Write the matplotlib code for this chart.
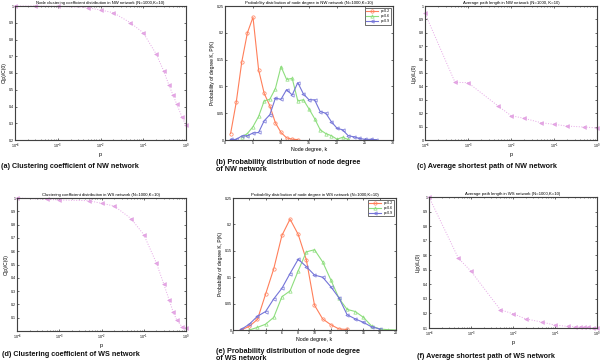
import matplotlib
matplotlib.use('Agg')
import matplotlib.pyplot as plt
import numpy as np
from matplotlib.ticker import LogLocator, NullFormatter

plt.rcParams['font.family'] = ['Liberation Sans', 'DejaVu Sans']

# clustering coefficient, NW network
p_nw_c = [1e-4, 3e-4, 1e-3, 5e-3, 1e-2, 2e-2, 5e-2, 0.1, 0.2, 0.3, 0.4, 0.5, 0.6, 0.8, 1.0]
c_nw = [1.0, 1.0, 0.998, 0.99, 0.976, 0.96, 0.90, 0.84, 0.714, 0.613, 0.527, 0.467, 0.417, 0.34, 0.288]

# average path length, NW network
p_nw_l = [1e-4, 5e-4, 1e-3, 5e-3, 1e-2, 2e-2, 5e-2, 0.1, 0.2, 0.5, 1.0]
l_nw = [0.945, 0.43, 0.428, 0.254, 0.182, 0.162, 0.129, 0.117, 0.104, 0.097, 0.09]

# clustering coefficient, WS network
p_ws_c = [1e-4, 5e-4, 1e-3, 5e-3, 1e-2, 2e-2, 5e-2, 0.1, 0.2, 0.3, 0.4, 0.5, 0.6, 0.8, 1.0]
c_ws = [1.0, 0.99, 0.985, 0.98, 0.96, 0.94, 0.845, 0.725, 0.51, 0.35, 0.233, 0.14, 0.085, 0.033, 0.025]

# average path length, WS network
p_ws_l = [1e-4, 5e-4, 1e-3, 5e-3, 1e-2, 2e-2, 5e-2, 0.1, 0.2, 0.3, 0.4, 0.5, 0.6, 0.8, 1.0]
l_ws = [1.0, 0.58, 0.49, 0.225, 0.198, 0.163, 0.14, 0.12, 0.111, 0.109, 0.107, 0.105, 0.105, 0.103, 0.102]

# degree distributions, NW network
k_nw_02 = list(range(1, 14))
pk_nw_02 = [0.012, 0.07, 0.146, 0.2, 0.229, 0.131, 0.087, 0.064, 0.032, 0.014, 0.004, 0.0015, 0.0008]
k_nw_06 = list(range(3, 23))
pk_nw_06 = [0.006, 0.012, 0.025, 0.044, 0.073, 0.076, 0.096, 0.137, 0.113, 0.115, 0.073, 0.075,
            0.058, 0.04, 0.019, 0.012, 0.008, 0.0015, 0.005, 0.001]
k_nw_09 = list(range(1, 28))
pk_nw_09 = [0.001, 0.001, 0.0075, 0.008, 0.013, 0.014, 0.036, 0.047, 0.078, 0.076, 0.094, 0.084,
            0.107, 0.086, 0.075, 0.075, 0.053, 0.05, 0.034, 0.022, 0.019, 0.008, 0.006, 0.003,
            0.0012, 0.0012, 0.0006]

# degree distributions, WS network
k_ws_02 = list(range(1, 15))
pk_ws_02 = [0.0, 0.007, 0.02, 0.068, 0.116, 0.179, 0.21, 0.181, 0.133, 0.047, 0.021, 0.01, 0.002, 0.001]
k_ws_06 = list(range(2, 21))
pk_ws_06 = [0.0, 0.005, 0.011, 0.024, 0.063, 0.074, 0.112, 0.148, 0.152, 0.129, 0.095, 0.06,
            0.039, 0.035, 0.024, 0.0076, 0.002, 0.0006, 0.0]
k_ws_09 = list(range(1, 19))
pk_ws_09 = [0.001, 0.011, 0.026, 0.035, 0.059, 0.079, 0.107, 0.134, 0.12, 0.104, 0.1, 0.082,
            0.061, 0.029, 0.021, 0.0145, 0.006, 0.002]

legend_labels = ['p=0.2', 'p=0.6', 'p=0.9']

W, H = 600, 363
fig = plt.figure(figsize=(W / 100, H / 100), dpi=100)


def px_axes(l, t, r, b):
    return fig.add_axes([l / W, 1 - b / H, (r - l) / W, (b - t) / H])


def style(ax):
    ax.tick_params(direction='in', top=True, right=True, labelsize=2.6, length=1.5,
                   width=0.5, pad=1, color='#333333')
    ax.tick_params(which='minor', direction='in', top=True, right=True, length=0.9, width=0.4,
                   color='#333333')
    # draw the box explicitly as a rectangle in axes coordinates
    ax.add_patch(plt.Rectangle((0, 0), 1, 1, transform=ax.transAxes, fill=False,
                               edgecolor='#444444', lw=0.7, zorder=6, clip_on=False))


def log_panel(ax, p, v, ylim, yticks, ylabel, title):
    ax.plot(p, v, linestyle=':', color='#e6a6e6', lw=0.7, marker='<', markersize=2.8,
            markerfacecolor='#e6a6e6', markeredgecolor='#d890d8', markeredgewidth=0.3,
            clip_on=False)
    ax.set_xscale('log')
    ax.set_xlim(1e-4, 1)
    ax.set_ylim(*ylim)
    ax.set_yticks(yticks)
    ax.set_yticklabels([('%g' % t) for t in yticks])
    ax.xaxis.set_major_locator(LogLocator(base=10, numticks=10))
    ax.xaxis.set_minor_locator(LogLocator(base=10, subs=np.arange(2, 10), numticks=20))
    ax.xaxis.set_minor_formatter(NullFormatter())
    ax.set_xlabel('p', fontsize=4, labelpad=1)
    ax.set_ylabel(ylabel, fontsize=3.6, labelpad=1.5)
    ax.set_title(title, fontsize=3.1, pad=1.5)
    style(ax)


def degree_panel(ax, series, xlim, xticks, title):
    colors = ['#ff7f5a', '#8ede7e', '#7474d8']
    markers = ['o', '^', '<']
    for (k, pk), c, m, lab in zip(series, colors, markers, legend_labels):
        ax.plot(k, pk, color=c, lw=0.8, marker=m, markersize=2.4, markerfacecolor='none',
                markeredgewidth=0.5, label=lab)
    ax.set_xlim(*xlim)
    ax.set_xticks(xticks)
    ax.set_ylim(0, 0.25)
    ax.set_yticks([0, 0.05, 0.1, 0.15, 0.2, 0.25])
    ax.set_yticklabels(['0', '0.05', '0.1', '0.15', '0.2', '0.25'])
    ax.set_xlabel('Node degree, k', fontsize=3.8, labelpad=1)
    ax.set_ylabel('Probability of degree K, P(K)', fontsize=3.6, labelpad=1.5)
    ax.set_title(title, fontsize=3.1, pad=1.5)
    leg = ax.legend(loc='upper right', fontsize=2.6, handlelength=3.2, borderpad=0.4,
                    labelspacing=0.25, framealpha=1, fancybox=False, edgecolor='#333333')
    leg.get_frame().set_linewidth(0.5)
    style(ax)


ax_a = px_axes(15, 6, 186, 140)
log_panel(ax_a, p_nw_c, c_nw, (0.2, 1), [0.2, 0.3, 0.4, 0.5, 0.6, 0.7, 0.8, 0.9, 1],
          'C(p)/C(0)', 'Node clustering coefficient distribution in NW network (N=1000,K=10)')

ax_b = px_axes(225, 6, 393, 140)
degree_panel(ax_b, [(k_nw_02, pk_nw_02), (k_nw_06, pk_nw_06), (k_nw_09, pk_nw_09)],
             (0, 30), [0, 5, 10, 15, 20, 25, 30],
             'Probability distribution of node degree in NW network (N=1000,K=10)')

ax_c = px_axes(425, 6, 597, 140)
log_panel(ax_c, p_nw_l, l_nw, (0, 1), [0, 0.1, 0.2, 0.3, 0.4, 0.5, 0.6, 0.7, 0.8, 0.9, 1],
          'L(p)/L(0)', 'Average path length in NW network (N=1000, K=10)')

ax_d = px_axes(17, 198, 186, 331)
log_panel(ax_d, p_ws_c, c_ws, (0, 1), [0.1, 0.2, 0.3, 0.4, 0.5, 0.6, 0.7, 0.8, 0.9, 1],
          'C(p)/C(0)', 'Clustering coefficient distribution in WS network (N=1000,K=10)')

ax_e = px_axes(233, 198, 396, 330)
degree_panel(ax_e, [(k_ws_02, pk_ws_02), (k_ws_06, pk_ws_06), (k_ws_09, pk_ws_09)],
             (0, 20), list(range(0, 21, 2)),
             'Probability distribution of node degree in WS network (N=1000,K=10)')

ax_f = px_axes(429, 197, 597, 328)
log_panel(ax_f, p_ws_l, l_ws, (0.1, 1), [0.1, 0.2, 0.3, 0.4, 0.5, 0.6, 0.7, 0.8, 0.9, 1],
          'L(p)/L(0)', 'Average path length in WS network (N=1000,K=10)')

captions = [
    (1, 167, '(a) Clustering coefficient of NW network'),
    (216, 166, '(b) Probability distribution of node degree\nof NW network'),
    (417, 167, '(c) Average shortest path of NW network'),
    (2, 354, '(d) Clustering coefficient of WS network'),
    (216, 355, '(e) Probability distribution of node degree\nof WS network'),
    (417, 357, '(f) Average shortest path of WS network'),
]
for x, y, txt in captions:
    fig.text(x / W, 1 - y / H, txt, fontsize=5.2, fontweight='bold', ha='left', va='center',
             linespacing=1.1, color='#111111')

fig.savefig('out.png', dpi=100)
